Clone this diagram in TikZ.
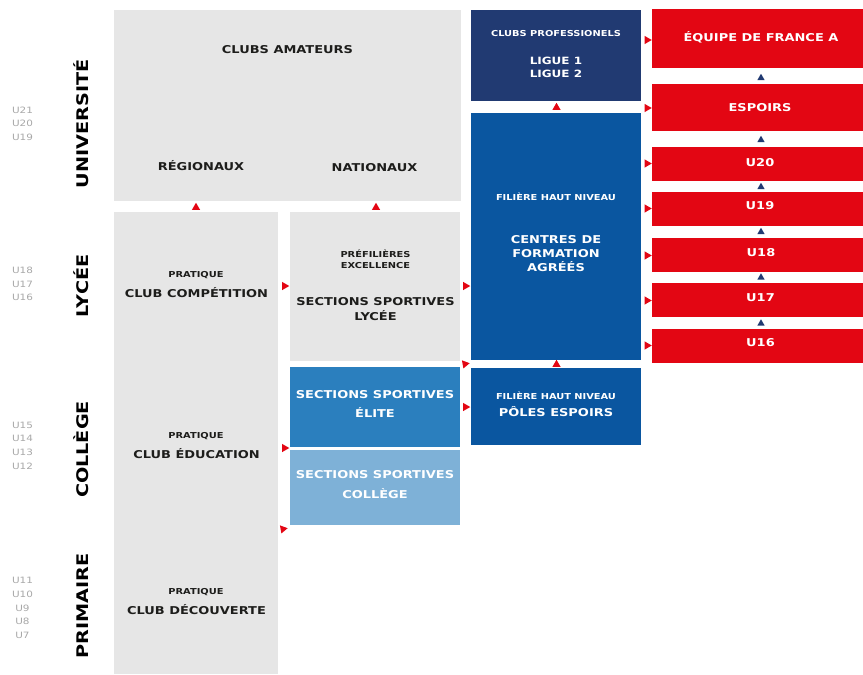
\documentclass[tikz,border=0pt]{standalone}
\usepackage{fontspec}
\usetikzlibrary{shapes.geometric}
\newfontfamily\techw[FakeStretch=1.2]{DejaVu Sans}
\definecolor{boxgray}{HTML}{E6E6E6}
\definecolor{navy}{HTML}{213A72}
\definecolor{fblue}{HTML}{0A56A0}
\definecolor{midblue}{HTML}{2B7FBE}
\definecolor{lightblue}{HTML}{7EB1D7}
\definecolor{fred}{HTML}{E30613}
\definecolor{dark}{HTML}{1D1D1B}
\definecolor{agegray}{HTML}{A8A8A8}
\begin{document}
\begin{tikzpicture}[x=1pt,y=-1pt,
  blk/.style={inner sep=0pt,outer sep=0pt,draw=none},
  gbox/.style={blk,fill=boxgray},
  big/.style={font=\techw\bfseries\fontsize{10.8}{13}\selectfont,inner sep=0pt,text height=7.9pt,text depth=0pt},
  sml/.style={font=\techw\bfseries\fontsize{8.2}{10}\selectfont,inner sep=0pt,text height=6pt,text depth=0pt},
  lvl/.style={font=\techw\bfseries\fontsize{16}{16}\selectfont,inner sep=0pt,text height=11.7pt,text depth=0pt,rotate=90,text=black},
  age/.style={font=\techw\fontsize{8.7}{13.6}\selectfont,inner sep=0pt,align=center,text=agegray},
  tri/.style={regular polygon,regular polygon sides=3,inner sep=0pt,outer sep=0pt,draw=none,minimum size=9.5pt},
  redup/.style={tri,fill=fred},
  redright/.style={tri,fill=fred,rotate=-90},
  reddown/.style={tri,fill=fred,rotate=160},
  navyup/.style={tri,fill=navy,minimum size=8.5pt}
]
\useasboundingbox (0,0) rectangle (863,675);

% ---- boxes ----
\node[gbox,minimum width=347pt,minimum height=191pt] (amat) at (287.5,105.5) {};
\node[gbox,minimum width=164pt,minimum height=462pt] (prat) at (196,443) {};
\node[gbox,minimum width=170pt,minimum height=149pt] (sslyc) at (375,286.5) {};
\node[blk,fill=midblue,minimum width=170pt,minimum height=80pt] (sselite) at (375,407) {};
\node[blk,fill=lightblue,minimum width=170pt,minimum height=75pt] (sscol) at (375,487.5) {};
\node[blk,fill=navy,minimum width=170pt,minimum height=91pt] (pro) at (556,55.5) {};
\node[blk,fill=fblue,minimum width=170pt,minimum height=247pt] (cfa) at (556,236.5) {};
\node[blk,fill=fblue,minimum width=170pt,minimum height=77pt] (poles) at (556,406.5) {};
\node[blk,fill=fred,minimum width=211pt,minimum height=59pt] (efa) at (757.5,38.5) {};
\node[blk,fill=fred,minimum width=211pt,minimum height=47pt] (esp) at (757.5,107.5) {};
\node[blk,fill=fred,minimum width=211pt,minimum height=34pt] (bu20) at (757.5,164) {};
\node[blk,fill=fred,minimum width=211pt,minimum height=34pt] (bu19) at (757.5,209) {};
\node[blk,fill=fred,minimum width=211pt,minimum height=34pt] (bu18) at (757.5,255) {};
\node[blk,fill=fred,minimum width=211pt,minimum height=34pt] (bu17) at (757.5,300) {};
\node[blk,fill=fred,minimum width=211pt,minimum height=34pt] (bu16) at (757.5,346) {};

% ---- texts in gray boxes ----
\node[big,text=dark] (tamat) at (287.5,49.7) {CLUBS AMATEURS};
\node[big,text=dark] (treg) at (201,167) {RÉGIONAUX};
\node[big,text=dark] (tnat) at (374.5,168) {NATIONAUX};
\node[sml,text=dark] (tp1) at (196,274) {PRATIQUE};
\node[big,text=dark] (tcomp) at (196.5,293.7) {CLUB COMPÉTITION};
\node[sml,text=dark] (tp2) at (196,435) {PRATIQUE};
\node[big,text=dark] (tedu) at (196.5,455) {CLUB ÉDUCATION};
\node[sml,text=dark] (tp3) at (196,591) {PRATIQUE};
\node[big,text=dark] (tdec) at (196.5,611) {CLUB DÉCOUVERTE};
\node[sml,text=dark] (tpref) at (375.5,254.7) {PRÉFILIÈRES};
\node[sml,text=dark] (texc) at (375.5,265.3) {EXCELLENCE};
\node[big,text=dark] (tssl1) at (375.5,301.7) {SECTIONS SPORTIVES};
\node[big,text=dark] (tssl2) at (375.5,317) {LYCÉE};
\node[big,text=white] (tsse1) at (375,394.5) {SECTIONS SPORTIVES};
\node[big,text=white] (tsse2) at (375,414) {ÉLITE};
\node[big,text=white] (tssc1) at (375,475) {SECTIONS SPORTIVES};
\node[big,text=white] (tssc2) at (375,494.5) {COLLÈGE};

% ---- texts in blue boxes ----
\node[sml,text=white] (tpro) at (556,33) {CLUBS PROFESSIONELS};
\node[big,text=white,font=\techw\bfseries\fontsize{10}{12}\selectfont,text height=7.3pt] (tl1) at (556,61) {LIGUE 1};
\node[big,text=white,font=\techw\bfseries\fontsize{10}{12}\selectfont,text height=7.3pt] (tl2) at (556,74) {LIGUE 2};
\node[sml,text=white] (tfhn1) at (556,197) {FILIÈRE HAUT NIVEAU};
\node[big,text=white] (tcfa1) at (556,240) {CENTRES DE};
\node[big,text=white] (tcfa2) at (556,254) {FORMATION};
\node[big,text=white] (tcfa3) at (556,268) {AGRÉÉS};
\node[sml,text=white] (tfhn2) at (556,396.5) {FILIÈRE HAUT NIVEAU};
\node[big,text=white] (tpol) at (556,412.5) {PÔLES ESPOIRS};

% ---- texts in red boxes ----
\node[big,text=white] (tefa) at (761,38) {ÉQUIPE DE FRANCE A};
\node[big,text=white] (tesp) at (760,107.5) {ESPOIRS};
\node[big,text=white] (tu20) at (760,163) {U20};
\node[big,text=white] (tu19) at (760,206) {U19};
\node[big,text=white] (tu18) at (761,253) {U18};
\node[big,text=white] (tu17) at (760.5,298) {U17};
\node[big,text=white] (tu16) at (760.5,343) {U16};

% ---- level labels ----
\node[lvl] (luni) at (83,124) {UNIVERSITÉ};
\node[lvl] (llyc) at (83,286) {LYCÉE};
\node[lvl] (lcol) at (83,449.5) {COLLÈGE};
\node[lvl] (lpri) at (83,606) {PRIMAIRE};

\node[age] (auni) at (22.5,123.5) {U21\\U20\\U19};
\node[age] (alyc) at (22.5,284) {U18\\U17\\U16};
\node[age] (acol) at (22.5,445.5) {U15\\U14\\U13\\U12};
\node[age] (apri) at (22.5,608) {U11\\U10\\U9\\U8\\U7};

% ---- arrow markers ----
\node[redup] (a1) at (196,207.5) {};
\node[redup] (a2) at (376,207.5) {};
\node[redup] (a3) at (556.5,107.5) {};
\node[redup] (a4) at (556.5,364.5) {};
\node[redright] (a5) at (284.5,286) {};
\node[redright] (a6) at (284.5,448) {};
\node[redright] (a7) at (465.5,286) {};
\node[redright] (a8) at (465.5,407) {};
\node[reddown] (a9) at (465,364) {};
\node[reddown] (a10) at (283,529) {};
\node[redright] (r1) at (647,40) {};
\node[redright] (r2) at (647,108) {};
\node[redright] (r3) at (647,163.5) {};
\node[redright] (r4) at (647,208.5) {};
\node[redright] (r5) at (647,255.5) {};
\node[redright] (r6) at (647,300.5) {};
\node[redright] (r7) at (647,345.5) {};
\node[navyup] (n1) at (761,78) {};
\node[navyup] (n2) at (761,140) {};
\node[navyup] (n3) at (761,187) {};
\node[navyup] (n4) at (761,232) {};
\node[navyup] (n5) at (761,277.5) {};
\node[navyup] (n6) at (761,323.5) {};
\end{tikzpicture}
\end{document}
